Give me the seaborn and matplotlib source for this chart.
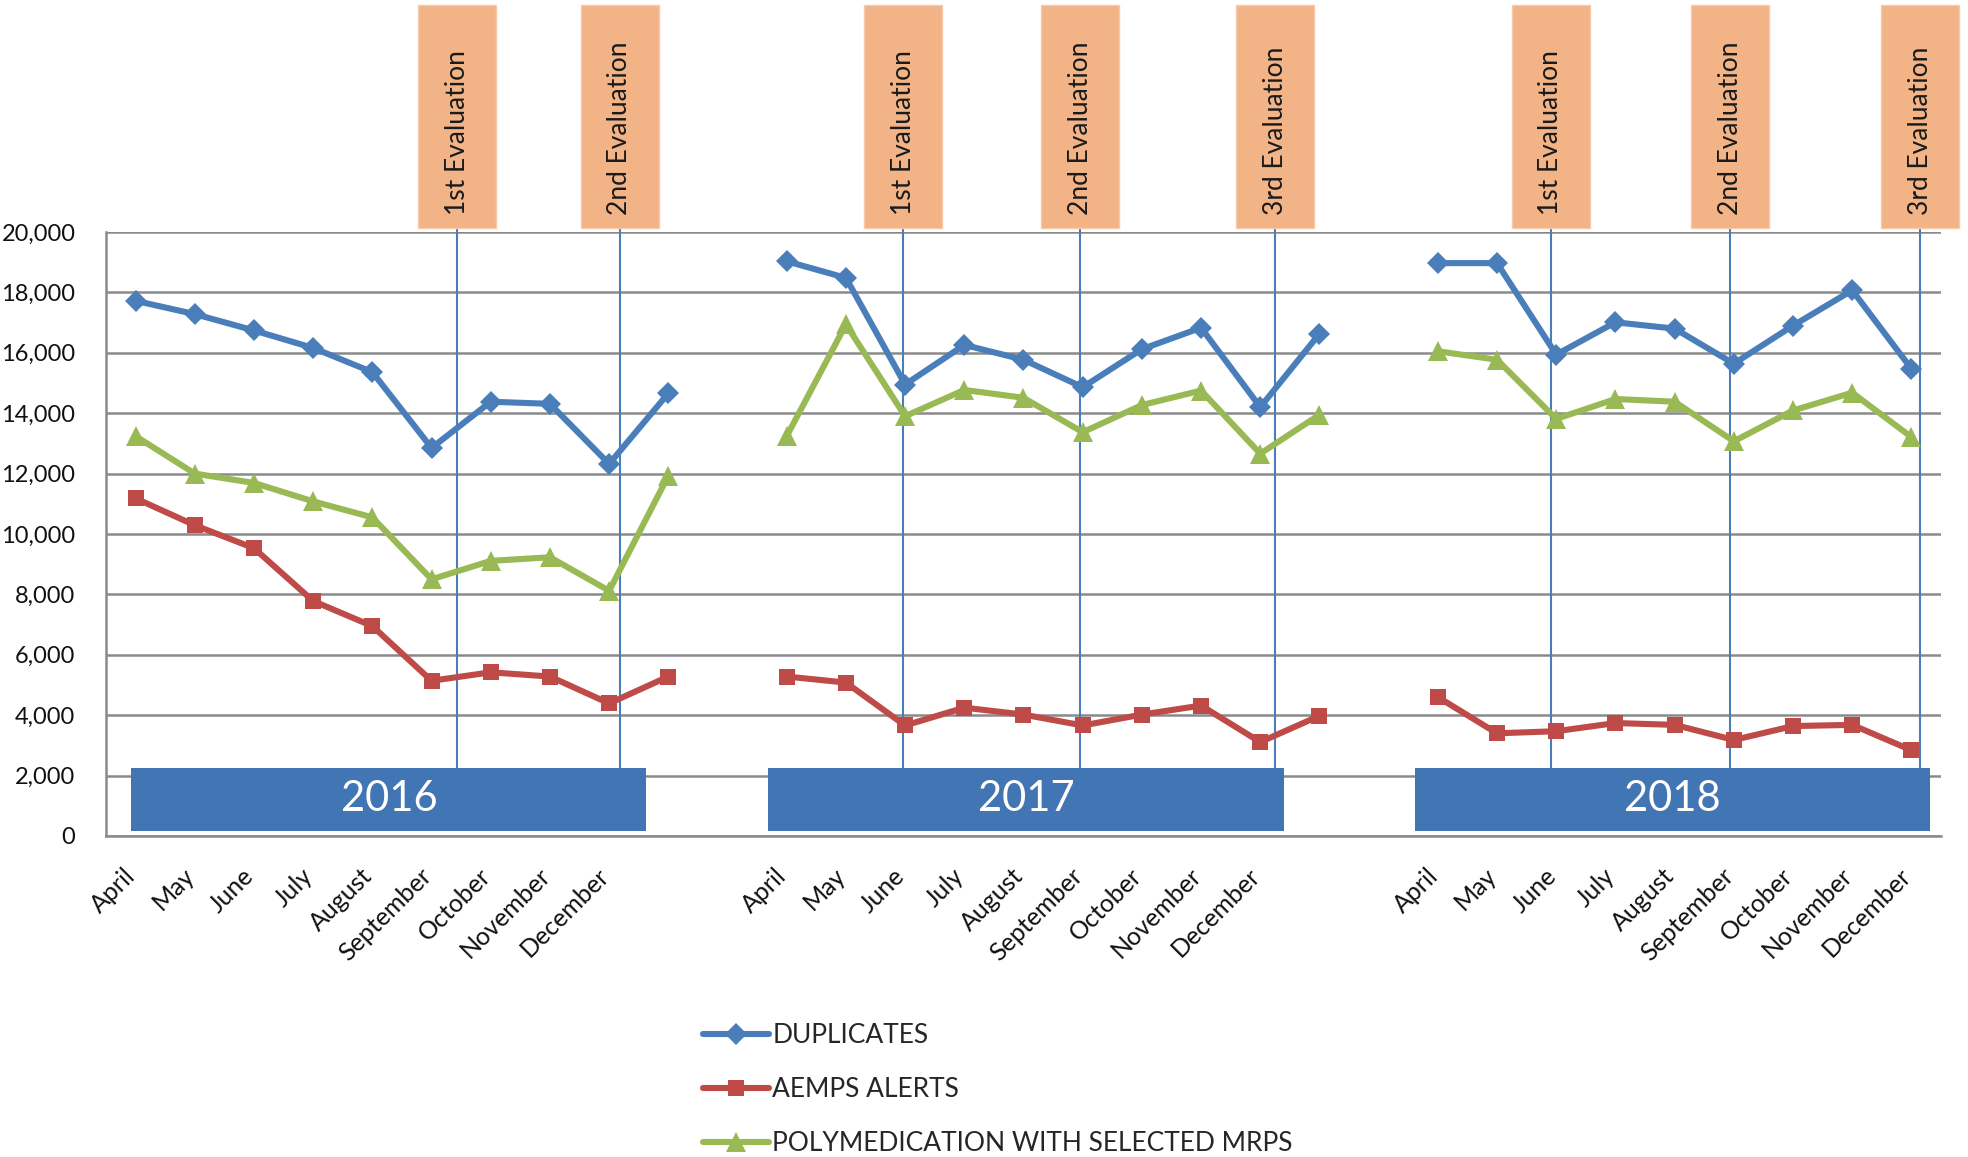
import numpy as np
import pandas as pd
import seaborn as sns
import matplotlib.pyplot as plt
import matplotlib.transforms as mtransforms
from matplotlib.patches import Rectangle

# values (one list per series and year)
months = ['April', 'May', 'June', 'July', 'August', 'September',
          'October', 'November', 'December']
years = ['2016', '2017', '2018']
series_names = ['DUPLICATES', 'AEMPS ALERTS', 'POLYMEDICATION WITH SELECTED MRPS']

duplicates_2016 = [17720, 17280, 16740, 16160, 15360, 12850, 14380, 14310, 12320, 14660]
alerts_2016 = [11180, 10290, 9530, 7780, 6950, 5140, 5420, 5280, 4390, 5280]
polymed_2016 = [13240, 12000, 11690, 11080, 10550, 8500, 9110, 9230, 8120, 11930]

duplicates_2017 = [19030, 18480, 14950, 16260, 15770, 14860, 16120, 16830, 14200, 16630]
alerts_2017 = [5280, 5080, 3660, 4250, 4020, 3660, 4020, 4320, 3110, 3980]
polymed_2017 = [13240, 16940, 13900, 14770, 14510, 13370, 14270, 14750, 12660, 13950]

duplicates_2018 = [18970, 18970, 15940, 17010, 16800, 15640, 16900, 18070, 15470]
alerts_2018 = [4600, 3400, 3470, 3740, 3680, 3180, 3640, 3680, 2840]
polymed_2018 = [16050, 15770, 13810, 14470, 14380, 13070, 14090, 14680, 13210]

tick_labels = months + ['', ''] + months + ['', ''] + months

# evaluation markers: label, x position in category units
evaluations = [('1st Evaluation', 5.43), ('2nd Evaluation', 8.18),
               ('1st Evaluation', 12.97), ('2nd Evaluation', 15.96), ('3rd Evaluation', 19.25),
               ('1st Evaluation', 23.91), ('2nd Evaluation', 26.94), ('3rd Evaluation', 30.15)]
# year banners: label, x start, x end
year_bands = [('2016', -0.07, 8.63), ('2017', 10.68, 19.40), ('2018', 21.62, 30.31)]

colors = ['#4A7EBB', '#BE4B48', '#98B954']
marker_styles = ['D', 's', '^']
marker_sizes = {'D': 11.5, 's': 12, '^': 14}
lw = 4.4

yearly = {
    '2016': [duplicates_2016, alerts_2016, polymed_2016],
    '2017': [duplicates_2017, alerts_2017, polymed_2017],
    '2018': [duplicates_2018, alerts_2018, polymed_2018],
}

rows = []
start = 0
for year in years:
    for name, vals in zip(series_names, yearly[year]):
        for i, v in enumerate(vals):
            rows.append({'pos': start + i, 'value': v, 'series': name, 'year': year})
    start += 11
df = pd.DataFrame(rows)

sns.set_style('white')
plt.rcParams['font.family'] = ['Lato', 'DejaVu Sans']

W, H = 1968, 1157
fig = plt.figure(figsize=(W / 100, H / 100), dpi=100)
ax = fig.add_axes([106 / W, 1 - 836 / H, (1941 - 106) / W, (836 - 232) / H])

sns.lineplot(data=df, x='pos', y='value', hue='series', style='series',
             units='year', estimator=None,
             palette=dict(zip(series_names, colors)),
             markers=dict(zip(series_names, marker_styles)), dashes=False,
             linewidth=lw, ax=ax, zorder=3)

for line in ax.lines:
    m = line.get_marker()
    if m in marker_sizes:
        line.set_markersize(marker_sizes[m])
        line.set_markeredgecolor(line.get_color())
        line.set_markeredgewidth(0)

# legend moved below the plot
leg = ax.get_legend()
handles, labels = [], []
for h, t in zip(leg.legend_handles, leg.get_texts()):
    if t.get_text() in series_names:
        m = h.get_marker()
        if m in marker_sizes:
            h.set_markersize(marker_sizes[m])
            h.set_markeredgecolor(h.get_color())
            h.set_markeredgewidth(0)
        h.set_linewidth(lw)
        handles.append(h)
        labels.append(t.get_text())
leg.remove()
fig.legend(handles, labels, loc='upper left', bbox_to_anchor=(703 / W, 1 - 1023 / H),
           frameon=False, fontsize=19, handlelength=2.5, handletextpad=0.12,
           labelspacing=1.1, borderpad=0, borderaxespad=0)

# axes styling
grid_col = '#8A8A8A'
ax.set_xlim(-0.5, 30.5)
ax.set_ylim(0, 20000)
ax.set_yticks(np.arange(0, 20001, 2000))
ax.set_yticklabels([f'{v:,}' for v in range(0, 20001, 2000)])
ax.yaxis.grid(True, color=grid_col, lw=1.8)
ax.set_axisbelow(True)
for s in ['top', 'right']:
    ax.spines[s].set_visible(False)
for s in ['left', 'bottom']:
    ax.spines[s].set_color(grid_col)
    ax.spines[s].set_linewidth(1.8)

ax.set_xticks(range(len(tick_labels)))
ax.set_xticklabels(tick_labels)
ax.set_xticks(np.arange(-0.5, len(tick_labels), 1), minor=True)
ax.tick_params(axis='x', which='major', length=0, pad=20, labelsize=18, labelcolor='#111111')
ax.tick_params(axis='x', which='minor', length=9, width=1.6, color=grid_col, direction='out')
ax.tick_params(axis='y', length=9, width=1.6, color=grid_col, direction='out', pad=13,
               labelsize=17, labelcolor='#111111')
shift = mtransforms.ScaledTranslation(-12 / 100, 0, fig.dpi_scale_trans)
for lbl in ax.get_xticklabels():
    lbl.set_rotation(45)
    lbl.set_ha('right')
    lbl.set_va('top')
    lbl.set_rotation_mode('anchor')
    lbl.set_transform(lbl.get_transform() + shift)
ax.set_xlabel('')
ax.set_ylabel('')

# evaluation boxes and lines
trans = mtransforms.blended_transform_factory(ax.transData, ax.transAxes)
bar_top = 2250
for label, x in evaluations:
    ax.plot([x, x], [bar_top, 20150], color='#4A7EBB', lw=1.5, zorder=1.5, clip_on=False)
    ax.add_patch(Rectangle((x - 0.66, 1.0066), 1.32, 0.37, transform=trans,
                           facecolor='#F2B386', edgecolor='#F6CBA9', lw=1,
                           clip_on=False, zorder=4))
    ax.text(x, 1.028, label, transform=trans, rotation=90, rotation_mode='anchor',
            ha='left', va='center', fontsize=19, color='#1a1a1a', zorder=5)

# year banners
for label, x0, x1 in year_bands:
    ax.add_patch(Rectangle((x0, 165), x1 - x0, bar_top - 165,
                           facecolor='#4275B3', edgecolor='none', zorder=2.5))
    ax.text((x0 + x1) / 2, 1210, label, ha='center', va='center',
            fontsize=30, color='white', zorder=2.6)

fig.savefig('out.png', dpi=100)
